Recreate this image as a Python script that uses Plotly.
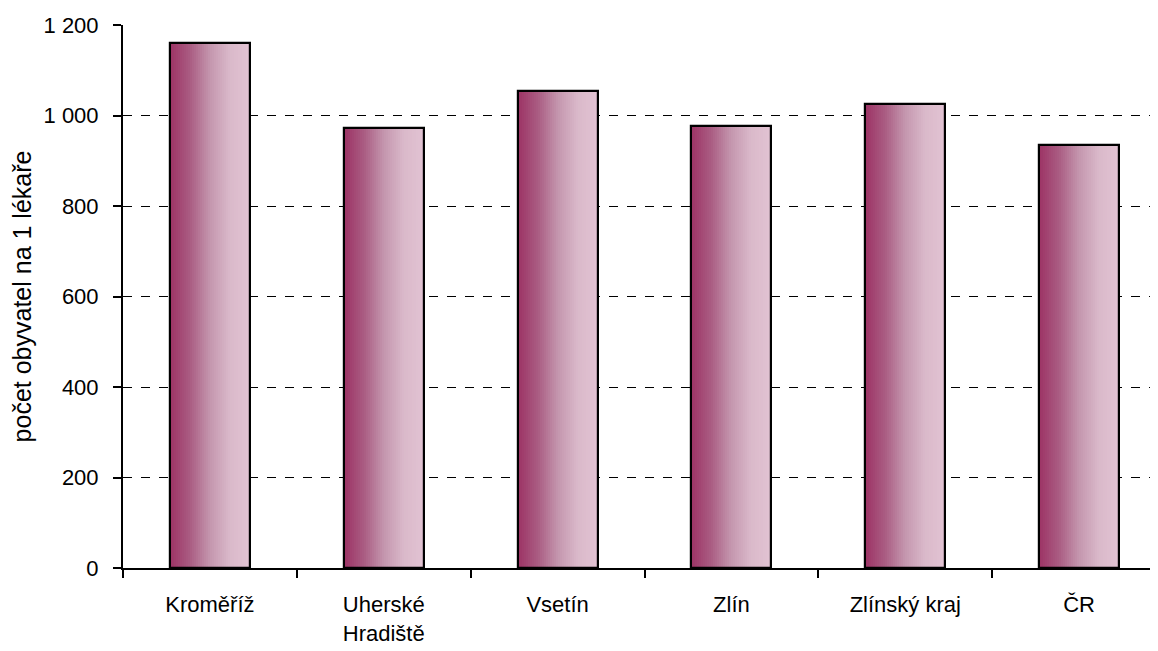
import plotly.graph_objects as go

categories = ["Kroměříž", "Uherské<br>Hradiště", "Vsetín", "Zlín", "Zlínský kraj", "ČR"]
values = [1160, 972, 1054, 977, 1025, 935]
y_ticks = [0, 200, 400, 600, 800, 1000, 1200]
y_ticklabels = ["0", "200", "400", "600", "800", "1 000", "1 200"]
grid_vals = [200, 400, 600, 800, 1000]

BW = 0.46
N = 40
stops = [(0.0, (156, 51, 101)), (0.25, (170, 92, 130)), (0.5, (196, 150, 174)),
         (0.75, (218, 185, 202)), (1.0, (226, 195, 211))]

def col(t):
    for (t0, c0), (t1, c1) in zip(stops[:-1], stops[1:]):
        if t <= t1:
            f = (t - t0) / (t1 - t0)
            return "rgb(%d,%d,%d)" % tuple(round(a + (b - a) * f) for a, b in zip(c0, c1))
    return "rgb(%d,%d,%d)" % stops[-1][1]

fig = go.Figure()
# invisible trace on the gridline axis (drawn first)
fig.add_trace(go.Scatter(x=[categories[0]], y=[0], yaxis="y2", mode="markers",
                         marker=dict(opacity=0), hoverinfo="skip", showlegend=False))
sw = BW / N
for i in range(N):
    w = sw * 1.6 if i < N - 1 else sw
    fig.add_trace(go.Bar(x=categories, y=values, width=w, offset=-BW / 2 + i * sw,
                         marker=dict(color=col((i + 0.5) / N), line=dict(width=0)),
                         hoverinfo="skip", showlegend=False))
fig.add_trace(go.Bar(x=categories, y=values, width=BW, offset=-BW / 2,
                     marker=dict(color="rgba(0,0,0,0)", line=dict(color="black", width=2.2)),
                     showlegend=False))

fig.update_layout(
    width=1158, height=651,
    margin=dict(l=115, r=0, t=17, b=91),
    paper_bgcolor="white", plot_bgcolor="rgba(0,0,0,0)",
    barmode="overlay", bargap=0,
    font=dict(family="Liberation Sans, Arial", size=22, color="black"),
    xaxis=dict(range=[-0.5, 5.5], tickson="boundaries", ticks="outside", ticklen=8,
               tickwidth=2, tickcolor="black", showline=True, linecolor="black", linewidth=2,
               showgrid=False, zeroline=False, fixedrange=True, ticklabelstandoff=16),
    yaxis=dict(range=[0, 1200], tickvals=y_ticks, ticktext=y_ticklabels, ticks="outside",
               ticklen=8, tickwidth=2, tickcolor="black", showline=True, linecolor="black",
               linewidth=2, showgrid=False, zeroline=False, ticklabelstandoff=10,
               title=dict(text="počet obyvatel na 1 lékaře",
                          font=dict(family="Liberation Sans, Arial", size=25), standoff=8)),
    yaxis2=dict(range=[0, 1200], overlaying="y", tickvals=grid_vals, showticklabels=False,
                showgrid=True, gridcolor="black", griddash="dash", gridwidth=0.8,
                showline=False, zeroline=False, layer="below traces"),
)
fig.write_html("out.html")
